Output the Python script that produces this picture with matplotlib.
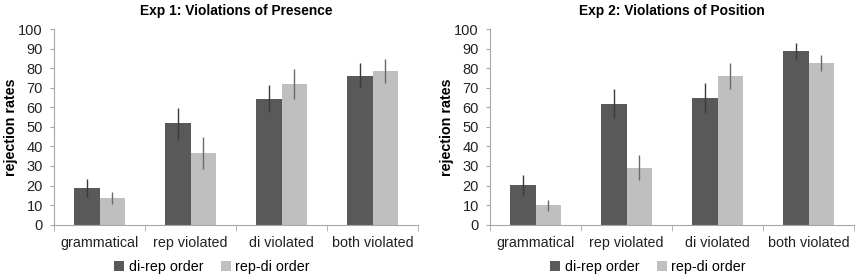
import numpy as np
import matplotlib.pyplot as plt

plt.rcParams['font.family'] = ['Liberation Sans', 'DejaVu Sans']

categories = ['grammatical', 'rep violated', 'di violated', 'both violated']
series = ['di-rep order', 'rep-di order']

exp1_direp = [18.9, 51.8, 64.4, 76.1]
exp1_direp_err = [4.7, 8.0, 7.0, 6.3]
exp1_repdi = [13.5, 36.8, 71.9, 78.4]
exp1_repdi_err = [3.0, 8.2, 7.9, 6.2]

exp2_direp = [20.3, 61.7, 64.9, 88.8]
exp2_direp_err = [5.0, 7.4, 7.7, 4.0]
exp2_repdi = [9.9, 29.1, 76.0, 82.6]
exp2_repdi_err = [2.7, 6.4, 6.5, 4.3]

titles = ['Exp 1: Violations of Presence', 'Exp 2: Violations of Position']
dark = '#595959'
light = '#bfbfbf'
axis_col = '#a6a6a6'

fig = plt.figure(figsize=(8.63, 2.8), dpi=100)
ax1 = fig.add_axes([54 / 863, 1 - 224.7 / 280, 364 / 863, 195.7 / 280])
ax2 = fig.add_axes([490 / 863, 1 - 224.7 / 280, 364 / 863, 195.7 / 280])

panels = [
    (ax1, exp1_direp, exp1_direp_err, exp1_repdi, exp1_repdi_err, titles[0]),
    (ax2, exp2_direp, exp2_direp_err, exp2_repdi, exp2_repdi_err, titles[1]),
]

x = np.arange(len(categories))
w = 0.28
for ax, d, de, r, re, t in panels:
    ax.bar(x - w / 2, d, w, color=dark, label=series[0], zorder=2)
    ax.bar(x + w / 2, r, w, color=light, label=series[1], zorder=2)
    ax.errorbar(x - w / 2, d, yerr=de, fmt='none', ecolor='#3a3a3a', elinewidth=1, capsize=0, zorder=3)
    ax.errorbar(x + w / 2, r, yerr=re, fmt='none', ecolor='#6a6a6a', elinewidth=1, capsize=0, zorder=3)
    ax.set_xlim(-0.5, 3.5)
    ax.set_ylim(0, 100)
    ax.set_yticks(range(0, 101, 10))
    ax.tick_params(axis='y', length=3, color=axis_col, labelsize=10.5, pad=5, labelcolor='#222222')
    ax.set_xticks(x)
    ax.set_xticklabels(categories, fontsize=10.3, color='#222222')
    ax.tick_params(axis='x', length=0, pad=8)
    ax.set_xticks(np.arange(-0.5, 4.0, 1.0), minor=True)
    ax.tick_params(axis='x', which='minor', length=4, color=axis_col)
    for s in ['top', 'right']:
        ax.spines[s].set_visible(False)
    for s in ['left', 'bottom']:
        ax.spines[s].set_color(axis_col)
    ax.set_ylabel('rejection rates', fontsize=10.3, fontweight='bold')
    ax.yaxis.set_label_coords(-0.099, 0.5)
    ax.set_title(t, fontsize=9.9, fontweight='bold', pad=10)
    ax.legend(loc='center', bbox_to_anchor=(0.434, -0.215), ncol=2, frameon=False,
              fontsize=10.3, handlelength=0.7, handleheight=0.7, handletextpad=0.3,
              columnspacing=1.2)

fig.savefig('out.png', dpi=100)
